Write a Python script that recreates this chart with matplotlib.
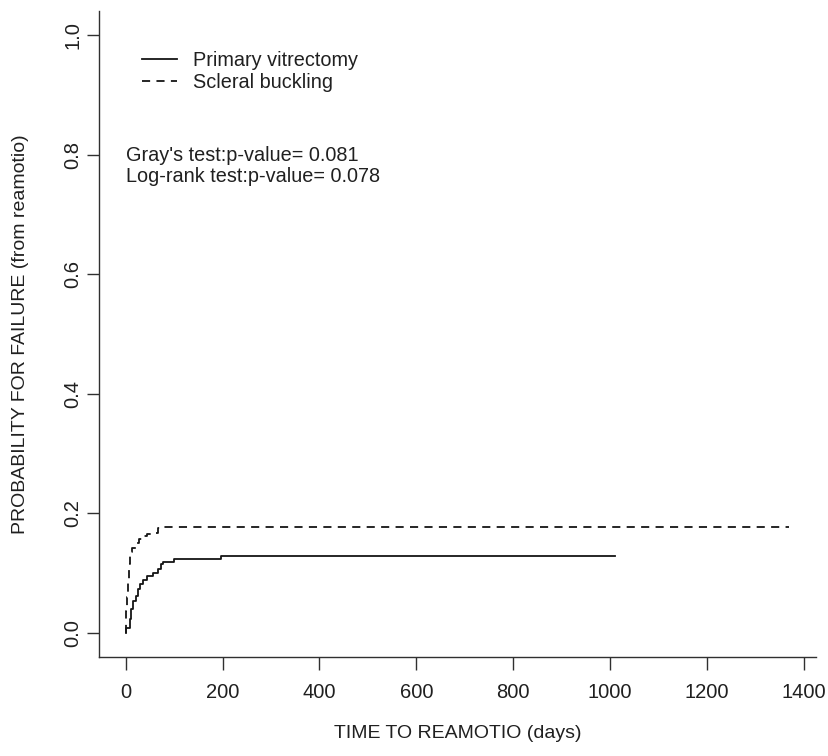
import matplotlib
matplotlib.use("Agg")
import matplotlib.pyplot as plt

plt.rcParams["font.family"] = ["Liberation Sans", "DejaVu Sans"]

# cumulative incidence step points (days, probability)
vit_time = [0, 0, 2, 8, 12, 16, 21, 26, 30, 35, 45, 56, 67, 73, 78, 100, 197, 1010]
vit_prob = [0.0, 0.009, 0.009, 0.023, 0.040, 0.054, 0.062, 0.073, 0.082, 0.088,
            0.095, 0.100, 0.107, 0.116, 0.118, 0.124, 0.129, 0.129]

sb_time = [0, 0, 1, 3, 4, 6, 8, 11, 14, 21, 28, 35, 45, 56, 67, 80, 1370]
sb_prob = [0.0, 0.012, 0.037, 0.060, 0.090, 0.115, 0.129, 0.135, 0.143, 0.151,
           0.157, 0.162, 0.166, 0.168, 0.176, 0.178, 0.178]

x_ticks = [0, 200, 400, 600, 800, 1000, 1200, 1400]
y_ticks = [0.0, 0.2, 0.4, 0.6, 0.8, 1.0]

fig = plt.figure(figsize=(8.29, 7.56), dpi=100)
ax = fig.add_axes([99 / 829, 1 - 657 / 756, 717 / 829, 646 / 756])

ax.step(vit_time, vit_prob, where="post", color="#151515", lw=1.3,
        label="Primary vitrectomy")
ax.step(sb_time, sb_prob, where="post", color="#151515", lw=1.3,
        dashes=(4.5, 3.5), label="Scleral buckling")

ax.set_xlim(-55, 1425)
ax.set_ylim(-0.04, 1.04)
ax.set_xticks(x_ticks)
ax.set_yticks(y_ticks)
ax.set_xticklabels([str(t) for t in x_ticks])
ax.set_yticklabels(["%.1f" % t for t in y_ticks], rotation=90, va="center")

for s in ["top", "right"]:
    ax.spines[s].set_visible(False)
for s in ["left", "bottom"]:
    ax.spines[s].set_color("#303030")
    ax.spines[s].set_linewidth(1.0)

ax.tick_params(axis="x", length=9, width=1.0, color="#303030", pad=10,
               labelsize=14.5, labelcolor="#202020")
ax.tick_params(axis="y", length=9, width=1.0, color="#303030", pad=3,
               labelsize=14.5, labelcolor="#202020")

ax.set_xlabel("TIME TO REAMOTIO (days)", fontsize=14, color="#202020")
ax.xaxis.set_label_coords(0.5, -0.105)
ax.set_ylabel("PROBABILITY FOR FAILURE (from reamotio)", fontsize=14,
              color="#202020")
ax.yaxis.set_label_coords(-0.098, 0.5)

leg = ax.legend(loc="upper left", bbox_to_anchor=(0.0596, 0.938), frameon=False,
                fontsize=14.3, handlelength=1.76, handletextpad=0.8,
                labelspacing=0.15, borderaxespad=0, borderpad=0)
for t in leg.get_texts():
    t.set_color("#202020")

ax.text(0.0377, 0.777, "Gray's test:p-value= 0.081", transform=ax.transAxes,
        fontsize=14.3, color="#202020", va="center")
ax.text(0.0377, 0.7435, "Log-rank test:p-value= 0.078", transform=ax.transAxes,
        fontsize=14.3, color="#202020", va="center")

fig.savefig("out.png", dpi=100)
